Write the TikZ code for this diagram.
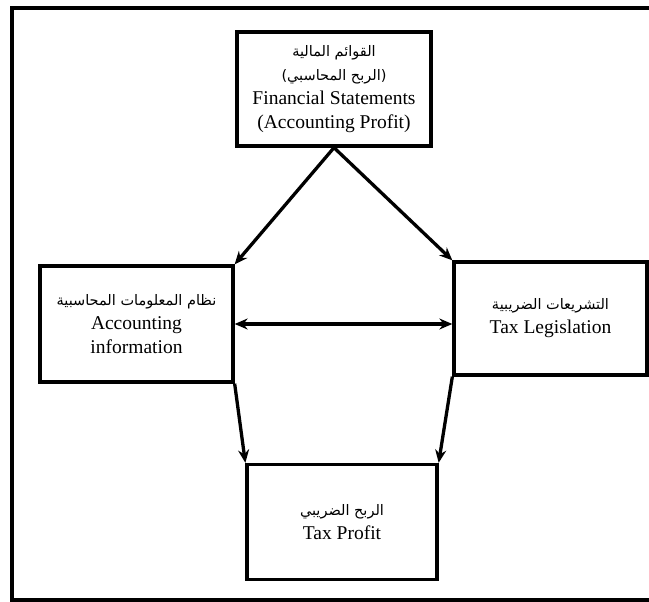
\documentclass[tikz,border=0pt]{standalone}
\usepackage{fontspec}
\setmainfont{Liberation Serif}
\newfontfamily\arabicfont[Script=Arabic]{DejaVu Sans}
\TeXXeTstate=1
\usetikzlibrary{arrows.meta}
\newcommand{\arabtxt}[1]{{\arabicfont\fontsize{14.5}{24}\selectfont\beginR #1\endR}}

\begin{document}
\begin{tikzpicture}[x=1pt, y=-1pt,
    every node/.style={font=\fontsize{19.5}{24}\selectfont, align=center},
    caja/.style={draw, rectangle, line width=3.3pt, inner sep=0pt},
    flecha/.style={-{Stealth[length=13pt, width=11pt]}, line width=3.3pt}]
    \useasboundingbox (0,0) rectangle (649,602);
    % Marco
    \draw[line width=4pt] (649,8) -- (12,8) -- (12,600) -- (649,600);

    % Nodos
    \node[caja, minimum width=194pt, minimum height=114pt] (fin) at (334,89)
        {\arabtxt{القوائم المالية}\\\arabtxt{(الربح المحاسبي)}\\Financial Statements\\(Accounting Profit)};
    \node[caja, minimum width=193pt, minimum height=116pt] (acc) at (136.5,324)
        {\arabtxt{نظام المعلومات المحاسبية}\\Accounting\\information};
    \node[caja, minimum width=193pt, minimum height=113pt] (tax) at (550.5,318.5)
        {\arabtxt{التشريعات الضريبية}\\Tax Legislation};
    \node[caja, minimum width=190pt, minimum height=115pt] (profit) at (342,522)
        {\arabtxt{الربح الضريبي}\\Tax Profit};

    % Flujo
    \draw[flecha] (fin.south) -- (acc.north east);
    \draw[flecha] (fin.south) -- (tax.north west);
    \draw[flecha, {Stealth[length=13pt, width=11pt]}-{Stealth[length=13pt, width=11pt]}] (acc.east) -- (acc.east -| tax.west);
    \draw[flecha] (acc.south east) -- (profit.north west);
    \draw[flecha] (tax.south west) -- (profit.north east);
\end{tikzpicture}
\end{document}
